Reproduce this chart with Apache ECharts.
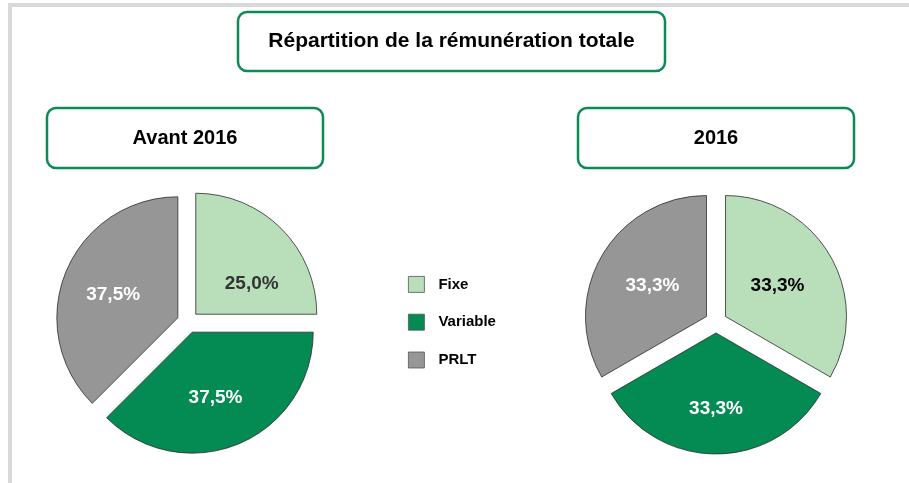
<!DOCTYPE html>
<html>
<head>
<meta charset="utf-8">
<script src="https://cdn.jsdelivr.net/npm/echarts@6/dist/echarts.min.js"></script>
<style>
  html, body { margin: 0; padding: 0; background: #fff; }
  #chart { width: 909px; height: 483px; }
</style>
</head>
<body>
<div id="chart"></div>
<script>
  // données
  const categories = ["Fixe", "Variable", "PRLT"];
  const avant2016 = [25.0, 37.5, 37.5];
  const annee2016 = [33.3, 33.3, 33.3];
  const pieTitles = ["Avant 2016", "2016"];
  const mainTitle = "Répartition de la rémunération totale";

  const colors = ["#b9dfba", "#038b53", "#969696"];
  const labelColors = ["#262626", "#ffffff", "#ffffff"];
  const font = "'Liberation Sans', Arial, sans-serif";
  const green = "#0a8a56";

  const chart = echarts.init(document.getElementById("chart"));

  function pieData(values, darkFirst) {
    return categories.map((c, i) => ({
      name: c,
      value: values[i],
      selected: true,
      itemStyle: { color: colors[i] },
      label: { color: i === 0 ? darkFirst : labelColors[i] }
    }));
  }

  // petits décalages des étiquettes, comme dans Excel
  function pieSeries(values, center, darkFirst, nudges) {
    return {
      type: "pie",
      center: center,
      radius: 121,
      startAngle: 90,
      clockwise: true,
      selectedMode: "multiple",
      selectedOffset: 11,
      animation: false,
      itemStyle: { borderColor: "#2b2b2b", borderWidth: 0.8 },
      emphasis: { disabled: true },
      label: {
        show: true,
        position: "inside",
        fontFamily: font,
        fontWeight: "bold",
        fontSize: 19,
        formatter: p => p.value.toFixed(1).replace(".", ",") + "%"
      },
      labelLayout: p => ({ dx: nudges[p.dataIndex][0], dy: nudges[p.dataIndex][1] }),
      labelLine: { show: false },
      data: pieData(values, darkFirst)
    };
  }

  function box(x, y, w, h, text, size) {
    return [
      {
        type: "rect",
        shape: { x: x, y: y, width: w, height: h, r: 9 },
        style: { fill: "#fff", stroke: green, lineWidth: 2.5 }
      },
      {
        type: "text",
        x: x + w / 2,
        y: y + h / 2,
        style: {
          text: text,
          fill: "#000",
          font: "bold " + size + "px " + font,
          align: "center",
          verticalAlign: "middle"
        }
      }
    ];
  }

  const option = {
    backgroundColor: "#fff",
    graphic: [
      { type: "rect", shape: { x: 8, y: 3, width: 901, height: 4 }, style: { fill: "#d9d9d9" } },
      { type: "rect", shape: { x: 8, y: 3, width: 4, height: 480 }, style: { fill: "#d9d9d9" } },
      ...box(238, 12, 427, 59, mainTitle, 21),
      ...box(47, 108, 276, 60, pieTitles[0], 20),
      ...box(578, 108, 276, 60, pieTitles[1], 20)
    ],
    legend: {
      orient: "vertical",
      left: 403,
      top: 271,
      itemWidth: 16,
      itemHeight: 16,
      itemGap: 21,
      selectedMode: false,
      icon: "rect",
      itemStyle: { borderColor: "#555", borderWidth: 0.8 },
      textStyle: {
        fontFamily: font,
        fontWeight: "bold",
        fontSize: 15,
        color: "#000",
        padding: [0, 0, 0, 9]
      },
      data: categories
    },
    series: [
      pieSeries(avant2016, [188, 322], "#333333", [[11, 14], [-1, 7], [-6, 1]]),
      pieSeries(annee2016, [716, 322], "#000000", [[-3, 1], [0, 12], [1, 1]])
    ]
  };

  chart.setOption(option);
</script>
</body>
</html>
